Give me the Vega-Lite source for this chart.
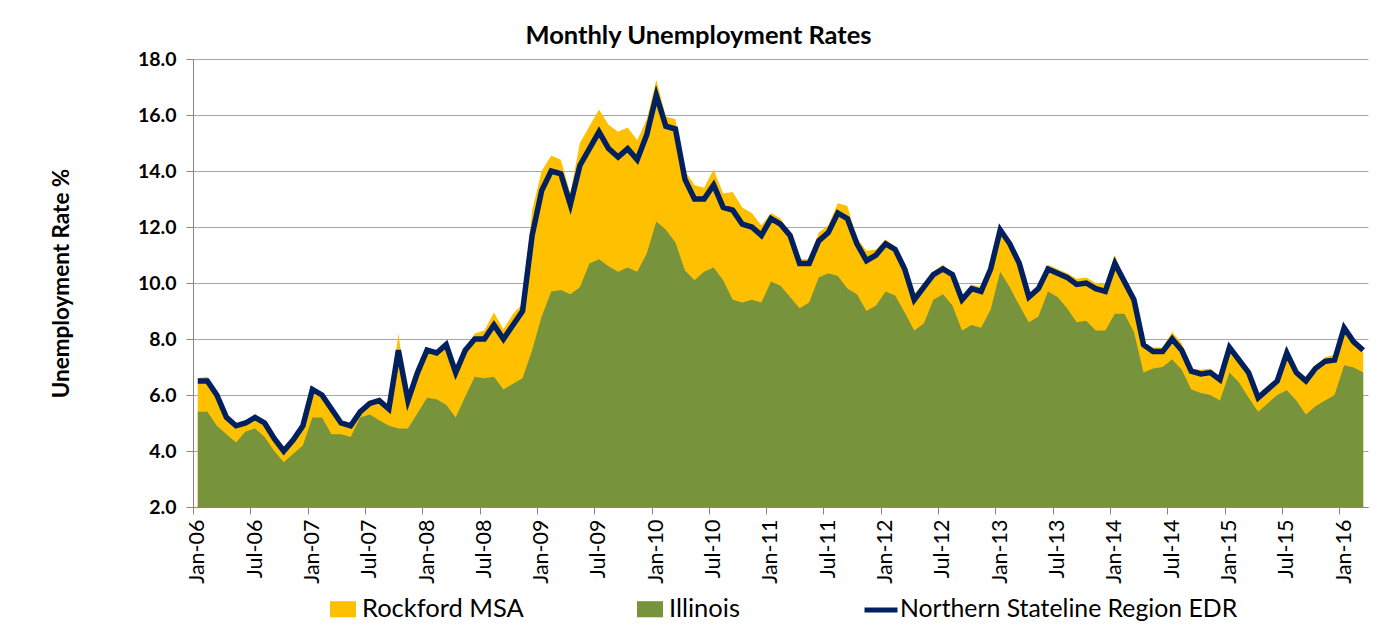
{
  "$schema": "https://vega.github.io/schema/vega-lite/v6.json",
  "width": 1175,
  "height": 448,
  "autosize": {"type": "none"},
  "padding": {"left": 193, "top": 59, "right": 29, "bottom": 134},
  "background": "white",
  "title": {"text": "Monthly Unemployment Rates", "font": "Lato", "fontSize": 25.5, "fontWeight": "bold", "color": "black", "anchor": "middle", "dx": -82, "offset": 14, "dy": 14},
  "data": {"values": [
    {"month":"Jan-06","rockford":6.6,"illinois":5.4,"edr":6.5},
    {"month":"Feb-06","rockford":6.65,"illinois":5.4,"edr":6.5},
    {"month":"Mar-06","rockford":6.05,"illinois":4.9,"edr":6.0},
    {"month":"Apr-06","rockford":5.25,"illinois":4.6,"edr":5.2},
    {"month":"May-06","rockford":4.95,"illinois":4.3,"edr":4.9},
    {"month":"Jun-06","rockford":5.05,"illinois":4.7,"edr":5.0},
    {"month":"Jul-06","rockford":5.3,"illinois":4.8,"edr":5.2},
    {"month":"Aug-06","rockford":5.05,"illinois":4.5,"edr":5.0},
    {"month":"Sep-06","rockford":4.5,"illinois":4.0,"edr":4.45},
    {"month":"Oct-06","rockford":4.05,"illinois":3.6,"edr":4.0},
    {"month":"Nov-06","rockford":4.45,"illinois":3.9,"edr":4.4},
    {"month":"Dec-06","rockford":4.95,"illinois":4.2,"edr":4.9},
    {"month":"Jan-07","rockford":6.25,"illinois":5.2,"edr":6.2},
    {"month":"Feb-07","rockford":6.05,"illinois":5.2,"edr":6.0},
    {"month":"Mar-07","rockford":5.55,"illinois":4.6,"edr":5.5},
    {"month":"Apr-07","rockford":5.05,"illinois":4.6,"edr":5.0},
    {"month":"May-07","rockford":4.95,"illinois":4.5,"edr":4.9},
    {"month":"Jun-07","rockford":5.5,"illinois":5.2,"edr":5.4},
    {"month":"Jul-07","rockford":5.8,"illinois":5.3,"edr":5.7},
    {"month":"Aug-07","rockford":5.9,"illinois":5.1,"edr":5.8},
    {"month":"Sep-07","rockford":5.55,"illinois":4.9,"edr":5.5},
    {"month":"Oct-07","rockford":8.2,"illinois":4.8,"edr":7.6},
    {"month":"Nov-07","rockford":5.85,"illinois":4.8,"edr":5.8},
    {"month":"Dec-07","rockford":6.85,"illinois":5.35,"edr":6.8},
    {"month":"Jan-08","rockford":7.65,"illinois":5.9,"edr":7.6},
    {"month":"Feb-08","rockford":7.55,"illinois":5.85,"edr":7.5},
    {"month":"Mar-08","rockford":7.85,"illinois":5.65,"edr":7.8},
    {"month":"Apr-08","rockford":6.85,"illinois":5.2,"edr":6.8},
    {"month":"May-08","rockford":7.65,"illinois":5.95,"edr":7.6},
    {"month":"Jun-08","rockford":8.2,"illinois":6.65,"edr":8.0},
    {"month":"Jul-08","rockford":8.3,"illinois":6.6,"edr":8.0},
    {"month":"Aug-08","rockford":8.95,"illinois":6.65,"edr":8.5},
    {"month":"Sep-08","rockford":8.35,"illinois":6.2,"edr":8.0},
    {"month":"Oct-08","rockford":8.9,"illinois":6.4,"edr":8.5},
    {"month":"Nov-08","rockford":9.25,"illinois":6.6,"edr":9.0},
    {"month":"Dec-08","rockford":12.6,"illinois":7.6,"edr":11.7},
    {"month":"Jan-09","rockford":14.0,"illinois":8.8,"edr":13.3},
    {"month":"Feb-09","rockford":14.55,"illinois":9.7,"edr":14.0},
    {"month":"Mar-09","rockford":14.4,"illinois":9.75,"edr":13.9},
    {"month":"Apr-09","rockford":13.2,"illinois":9.6,"edr":12.8},
    {"month":"May-09","rockford":15.0,"illinois":9.85,"edr":14.2},
    {"month":"Jun-09","rockford":15.6,"illinois":10.7,"edr":14.8},
    {"month":"Jul-09","rockford":16.2,"illinois":10.85,"edr":15.4},
    {"month":"Aug-09","rockford":15.65,"illinois":10.6,"edr":14.8},
    {"month":"Sep-09","rockford":15.4,"illinois":10.4,"edr":14.5},
    {"month":"Oct-09","rockford":15.55,"illinois":10.55,"edr":14.8},
    {"month":"Nov-09","rockford":15.1,"illinois":10.4,"edr":14.4},
    {"month":"Dec-09","rockford":15.85,"illinois":11.05,"edr":15.3},
    {"month":"Jan-10","rockford":17.25,"illinois":12.2,"edr":16.7},
    {"month":"Feb-10","rockford":15.95,"illinois":11.9,"edr":15.6},
    {"month":"Mar-10","rockford":15.85,"illinois":11.45,"edr":15.5},
    {"month":"Apr-10","rockford":14.0,"illinois":10.45,"edr":13.7},
    {"month":"May-10","rockford":13.5,"illinois":10.1,"edr":13.0},
    {"month":"Jun-10","rockford":13.4,"illinois":10.4,"edr":13.0},
    {"month":"Jul-10","rockford":14.05,"illinois":10.55,"edr":13.5},
    {"month":"Aug-10","rockford":13.2,"illinois":10.1,"edr":12.7},
    {"month":"Sep-10","rockford":13.25,"illinois":9.4,"edr":12.6},
    {"month":"Oct-10","rockford":12.7,"illinois":9.3,"edr":12.1},
    {"month":"Nov-10","rockford":12.5,"illinois":9.4,"edr":12.0},
    {"month":"Dec-10","rockford":12.05,"illinois":9.3,"edr":11.7},
    {"month":"Jan-11","rockford":12.5,"illinois":10.05,"edr":12.3},
    {"month":"Feb-11","rockford":12.3,"illinois":9.9,"edr":12.1},
    {"month":"Mar-11","rockford":11.75,"illinois":9.5,"edr":11.7},
    {"month":"Apr-11","rockford":10.85,"illinois":9.1,"edr":10.7},
    {"month":"May-11","rockford":10.85,"illinois":9.3,"edr":10.7},
    {"month":"Jun-11","rockford":11.8,"illinois":10.2,"edr":11.5},
    {"month":"Jul-11","rockford":12.05,"illinois":10.35,"edr":11.8},
    {"month":"Aug-11","rockford":12.85,"illinois":10.25,"edr":12.5},
    {"month":"Sep-11","rockford":12.75,"illinois":9.8,"edr":12.3},
    {"month":"Oct-11","rockford":11.6,"illinois":9.6,"edr":11.4},
    {"month":"Nov-11","rockford":11.15,"illinois":9.0,"edr":10.8},
    {"month":"Dec-11","rockford":11.2,"illinois":9.2,"edr":11.0},
    {"month":"Jan-12","rockford":11.55,"illinois":9.7,"edr":11.4},
    {"month":"Feb-12","rockford":11.3,"illinois":9.55,"edr":11.2},
    {"month":"Mar-12","rockford":10.7,"illinois":8.95,"edr":10.5},
    {"month":"Apr-12","rockford":9.6,"illinois":8.3,"edr":9.4},
    {"month":"May-12","rockford":10.0,"illinois":8.55,"edr":9.85},
    {"month":"Jun-12","rockford":10.4,"illinois":9.4,"edr":10.3},
    {"month":"Jul-12","rockford":10.65,"illinois":9.6,"edr":10.5},
    {"month":"Aug-12","rockford":10.35,"illinois":9.2,"edr":10.3},
    {"month":"Sep-12","rockford":9.5,"illinois":8.3,"edr":9.4},
    {"month":"Oct-12","rockford":9.95,"illinois":8.5,"edr":9.8},
    {"month":"Nov-12","rockford":9.85,"illinois":8.4,"edr":9.7},
    {"month":"Dec-12","rockford":10.5,"illinois":9.05,"edr":10.5},
    {"month":"Jan-13","rockford":11.95,"illinois":10.4,"edr":11.9},
    {"month":"Feb-13","rockford":11.45,"illinois":9.85,"edr":11.4},
    {"month":"Mar-13","rockford":10.75,"illinois":9.2,"edr":10.7},
    {"month":"Apr-13","rockford":9.55,"illinois":8.6,"edr":9.5},
    {"month":"May-13","rockford":9.9,"illinois":8.8,"edr":9.8},
    {"month":"Jun-13","rockford":10.65,"illinois":9.7,"edr":10.5},
    {"month":"Jul-13","rockford":10.5,"illinois":9.5,"edr":10.35},
    {"month":"Aug-13","rockford":10.35,"illinois":9.1,"edr":10.2},
    {"month":"Sep-13","rockford":10.15,"illinois":8.6,"edr":9.95},
    {"month":"Oct-13","rockford":10.2,"illinois":8.65,"edr":10.0},
    {"month":"Nov-13","rockford":10.0,"illinois":8.3,"edr":9.8},
    {"month":"Dec-13","rockford":9.95,"illinois":8.3,"edr":9.7},
    {"month":"Jan-14","rockford":11.0,"illinois":8.9,"edr":10.7},
    {"month":"Feb-14","rockford":10.15,"illinois":8.9,"edr":10.05},
    {"month":"Mar-14","rockford":9.45,"illinois":8.25,"edr":9.4},
    {"month":"Apr-14","rockford":7.85,"illinois":6.8,"edr":7.8},
    {"month":"May-14","rockford":7.7,"illinois":6.95,"edr":7.55},
    {"month":"Jun-14","rockford":7.7,"illinois":7.0,"edr":7.55},
    {"month":"Jul-14","rockford":8.25,"illinois":7.27,"edr":8.0},
    {"month":"Aug-14","rockford":7.85,"illinois":6.9,"edr":7.6},
    {"month":"Sep-14","rockford":6.95,"illinois":6.2,"edr":6.85},
    {"month":"Oct-14","rockford":6.9,"illinois":6.07,"edr":6.75},
    {"month":"Nov-14","rockford":6.95,"illinois":6.0,"edr":6.8},
    {"month":"Dec-14","rockford":6.65,"illinois":5.8,"edr":6.55},
    {"month":"Jan-15","rockford":7.7,"illinois":6.8,"edr":7.7},
    {"month":"Feb-15","rockford":7.3,"illinois":6.45,"edr":7.25},
    {"month":"Mar-15","rockford":6.9,"illinois":5.9,"edr":6.8},
    {"month":"Apr-15","rockford":6.05,"illinois":5.4,"edr":5.9},
    {"month":"May-15","rockford":6.3,"illinois":5.7,"edr":6.2},
    {"month":"Jun-15","rockford":6.6,"illinois":6.0,"edr":6.5},
    {"month":"Jul-15","rockford":7.75,"illinois":6.17,"edr":7.5},
    {"month":"Aug-15","rockford":6.9,"illinois":5.8,"edr":6.8},
    {"month":"Sep-15","rockford":6.65,"illinois":5.3,"edr":6.5},
    {"month":"Oct-15","rockford":7.0,"illinois":5.6,"edr":6.95},
    {"month":"Nov-15","rockford":7.35,"illinois":5.8,"edr":7.2},
    {"month":"Dec-15","rockford":7.45,"illinois":6.0,"edr":7.25},
    {"month":"Jan-16","rockford":8.25,"illinois":7.06,"edr":8.4},
    {"month":"Feb-16","rockford":7.9,"illinois":6.98,"edr":7.9},
    {"month":"Mar-16","rockford":7.5,"illinois":6.8,"edr":7.6}
  ]},
  "encoding": {
    "x": {
      "field": "month", "type": "ordinal", "sort": null,
      "scale": {"type": "point", "padding": 0.5},
      "axis": {
        "title": null,
        "values": ["Jan-06","Jul-06","Jan-07","Jul-07","Jan-08","Jul-08","Jan-09","Jul-09","Jan-10","Jul-10","Jan-11","Jul-11","Jan-12","Jul-12","Jan-13","Jul-13","Jan-14","Jul-14","Jan-15","Jul-15","Jan-16"],
        "labelAngle": 270, "labelFont": "Lato", "labelFontSize": 21.5, "labelColor": "black",
        "labelPadding": 5, "labelOverlap": false, "labelBound": false,
        "tickSize": 7, "tickOffset": -4.78, "labelOffset": 4.78,
        "domainColor": "#868686", "tickColor": "#868686", "grid": false
      }
    }
  },
  "layer": [
    {
      "mark": {"type": "area"},
      "encoding": {
        "y": {"field": "rockford", "type": "quantitative",
          "scale": {"domain": [2, 18], "zero": false, "nice": false},
          "axis": {
            "values": [2,4,6,8,10,12,14,16,18], "format": ".1f",
            "labelFont": "Lato", "labelFontSize": 19.5, "labelFontWeight": "bold", "labelColor": "black",
            "labelPadding": 10, "tickSize": 7, "tickColor": "#868686", "domainColor": "#868686",
            "grid": true, "gridColor": "#A6A6A6",
            "title": "Unemployment Rate %", "titleFont": "Lato", "titleFontSize": 22.5, "titleFontWeight": "bold",
            "titleColor": "black", "titlePadding": 64
          }
        },
        "y2": {"datum": 2},
        "fill": {"datum": "Rockford MSA",
          "scale": {"domain": ["Rockford MSA", "Illinois"], "range": ["#FFC000", "#77933C"]},
          "legend": {"orient": "none", "legendX": 137, "legendY": 537, "direction": "horizontal", "title": null,
            "symbolType": "M-1,-0.62H1V0.62H-1Z", "symbolSize": 676, "symbolStrokeWidth": 0, "symbolOpacity": 1,
            "labelFont": "Lato", "labelFontSize": 25.5, "labelColor": "black", "labelOffset": 6, "columnPadding": 113, "labelLimit": 400}
        }
      }
    },
    {
      "mark": {"type": "area"},
      "encoding": {
        "y": {"field": "illinois", "type": "quantitative"},
        "y2": {"datum": 2},
        "fill": {"datum": "Illinois"}
      }
    },
    {
      "mark": {"type": "line", "strokeWidth": 5.5},
      "encoding": {
        "y": {"field": "edr", "type": "quantitative"},
        "stroke": {"datum": "Northern Stateline Region EDR",
          "scale": {"domain": ["Northern Stateline Region EDR"], "range": ["#002060"]},
          "legend": {"orient": "none", "legendX": 669, "legendY": 532, "title": null,
            "symbolType": "stroke", "symbolSize": 1089, "symbolStrokeWidth": 5,
            "labelFont": "Lato", "labelFontSize": 24.8, "labelColor": "black", "labelOffset": 0, "labelLimit": 500}
        }
      }
    }
  ],
  "config": {"view": {"stroke": null}}
}
